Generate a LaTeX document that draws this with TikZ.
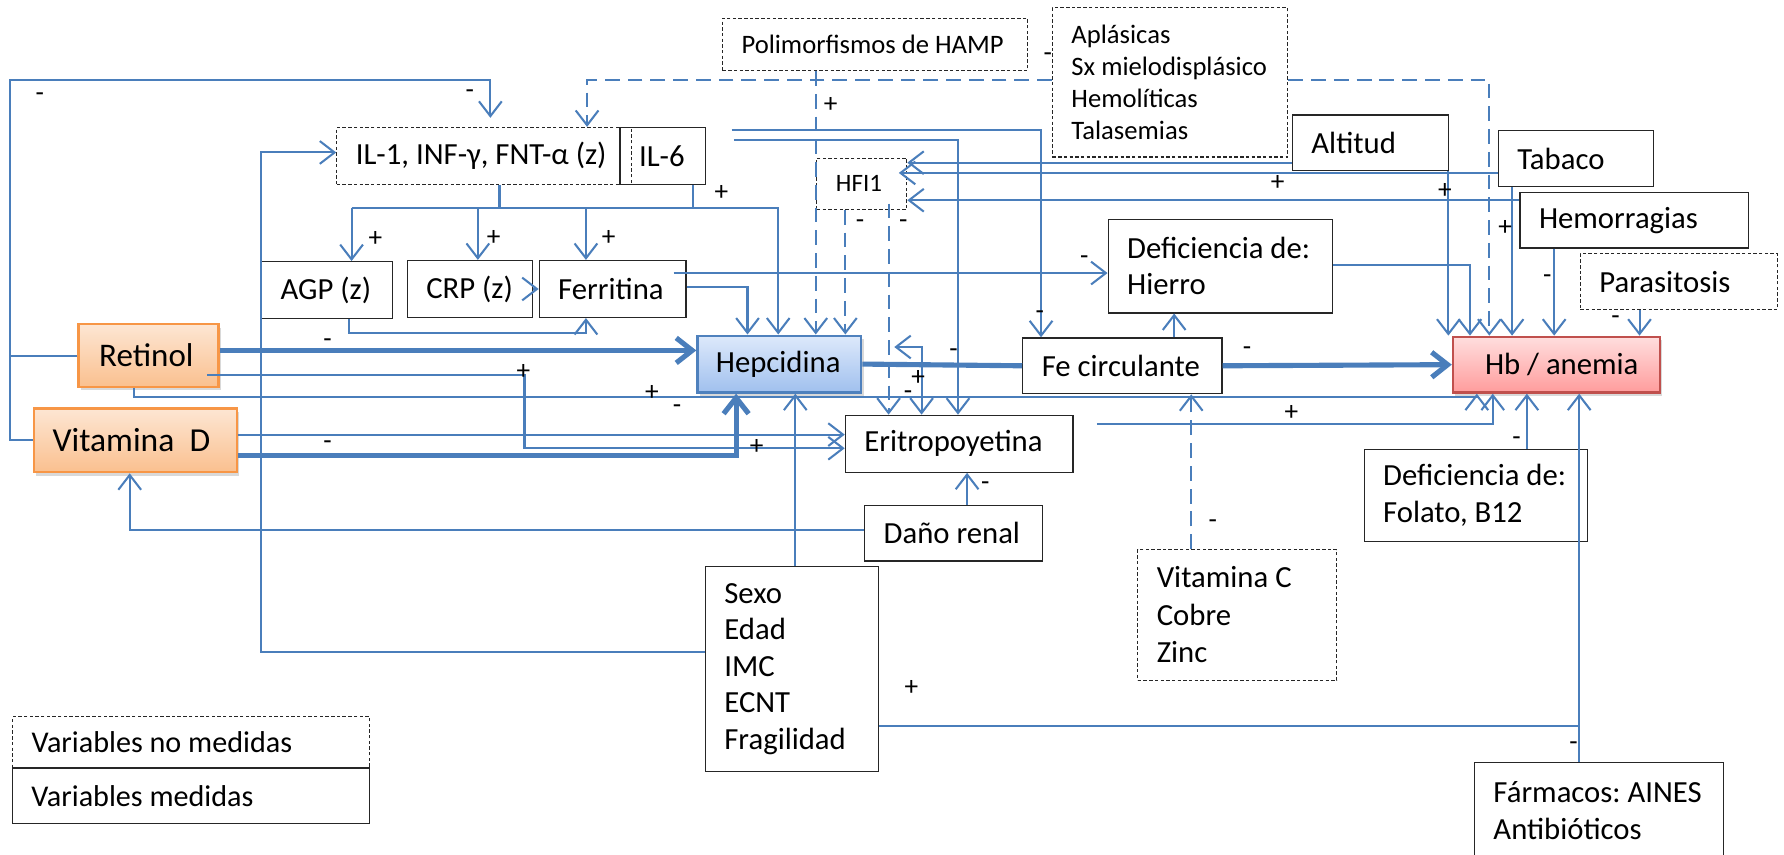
\documentclass[tikz,border=0pt]{standalone}
\usepackage{fontspec}
\setmainfont{Carlito}
\frenchspacing
\usetikzlibrary{arrows.meta,shadows,calc}
\definecolor{lnk}{HTML}{4A7EBB}
\definecolor{orT}{HTML}{FDE6D3}
\definecolor{orB}{HTML}{FAC08F}
\definecolor{orD}{HTML}{F79646}
\definecolor{blT}{HTML}{DDE9FB}
\definecolor{blB}{HTML}{A0C0EE}
\definecolor{blD}{HTML}{4F81BD}
\definecolor{rdT}{HTML}{FFDEDE}
\definecolor{rdB}{HTML}{FF9C9C}
\definecolor{rdD}{HTML}{C0504D}
\newcommand\mybox[8][]{%
  \node[#2, minimum width=#6pt, minimum height=#7pt] (#3) at (#4,#5) {};
  \node[txt, anchor=west, #1] (#3-t) at ([xshift=17pt]#3.west) {#8};}
\begin{document}
\begin{tikzpicture}[x=1pt,y=-1pt,
  >={Straight Barb[length=13pt,width=20pt]},
  bx/.style={draw=black!85, line width=1.1pt, fill=white, inner sep=0pt},
  dbx/.style={bx, dash pattern=on 3pt off 2pt, line width=0.9pt},
  nbx/.style={draw=black!85, line width=1.1pt, inner sep=0pt},
  ndbx/.style={nbx, dash pattern=on 3pt off 2pt, line width=0.9pt},
  shd/.style={drop shadow={shadow xshift=2pt, shadow yshift=-3pt, opacity=0.3}},
  obox/.style={draw=orD, line width=2pt, top color=orT, bottom color=orB, inner sep=0pt, shd},
  bbox/.style={draw=blD, line width=2pt, top color=blT, bottom color=blB, inner sep=0pt, shd},
  rbox/.style={draw=rdD, line width=2pt, top color=rdT, bottom color=rdB, inner sep=0pt, shd},
  txt/.style={inner sep=0pt, align=left, font=\fontsize{27}{32}\selectfont, text=black},
  smalltxt/.style={font=\fontsize{23.4}{28}\selectfont},
  conn/.style={draw=lnk, line width=1.8pt, ->},
  lconn/.style={draw=lnk, line width=1.8pt},
  dconn/.style={conn, dash pattern=on 13pt off 7pt},
  tline/.style={draw=lnk, line width=4.5pt},
  tconn/.style={draw=lnk, line width=4.5pt, -{Straight Barb[length=14pt,width=22pt]}},
  lab/.style={inner sep=0pt, font=\fontsize{24}{24}\selectfont}]
\useasboundingbox (0,0) rectangle (1568,751);
\clip (0,0) rectangle (1568,751);

% ---------- boxes ----------
\mybox[xshift=2pt,font=\fontsize{29}{34}\selectfont]{obox}{ret}{130.5}{312.5}{123}{55}{Retinol}
\mybox[font=\fontsize{29.5}{34}\selectfont]{obox}{vitd}{119}{387}{178}{56}{Vitamina\ \ D}
\mybox{ndbx}{il}{425.5}{137}{259}{50}{IL-1, INF-γ, FNT-α (z)}
\mybox{nbx}{il6}{582.5}{137}{75}{50}{IL-6}
\mybox{bx}{agp}{287.5}{255}{115}{50}{AGP (z)}
\mybox{bx}{crp}{413}{254}{110}{50}{CRP (z)}
\mybox{bx}{fer}{538.5}{254}{129}{50}{Ferritina}
\mybox{bbox}{hep}{685}{320}{144}{50}{Hepcidina}
\mybox{bx}{fec}{986.5}{321.5}{175}{49}{Fe circulante}
\mybox[xshift=12pt]{rbox}{hb}{1368}{320.5}{182}{49}{Hb / anemia}
\mybox{bx}{defh}{1072.5}{234}{197}{82}{Deficiencia de:\\Hierro}
\mybox{bx}{eri}{843}{390}{200}{50}{Eritropoyetina}
\mybox{bx}{dan}{838}{468.5}{156}{49}{Daño renal}
\mybox{bx}{sex}{696}{588}{152}{180}{Sexo\\Edad\\IMC\\ECNT\\Fragilidad}
\mybox[font=\fontsize{27}{33}\selectfont]{dbx}{vitc}{1087.5}{540.5}{175}{115}{Vitamina C\\Cobre\\Zinc}
\mybox{bx}{deff}{1297}{435.5}{196}{81}{Deficiencia de:\\Folato, B12}
\mybox{bx}{farm}{1405.5}{712.5}{219}{85}{Fármacos: AINES\\Antibióticos}
\mybox{dbx}{par}{1475.5}{247.5}{173}{49}{Parasitosis}
\mybox{bx}{hem}{1436.5}{193.5}{201}{49}{Hemorragias}
\mybox{bx}{tab}{1385}{139.5}{136}{49}{Tabaco}
\mybox{bx}{alt}{1204.5}{125.5}{137}{49}{Altitud}
\mybox[smalltxt]{dbx}{apl}{1028.5}{72.5}{207}{131}{Aplásicas\\Sx mielodisplásico\\Hemolíticas\\Talasemias}
\mybox[smalltxt]{dbx}{hamp}{769}{39}{268}{46}{Polimorfismos de HAMP}
\mybox[font=\fontsize{22}{26}\selectfont]{dbx}{hfi}{757.5}{161.5}{79}{45}{HFI1}
\mybox[font=\fontsize{26.5}{30}\selectfont]{dbx}{leg1}{168}{652.5}{314}{45}{Variables no medidas}
\mybox[font=\fontsize{26.5}{30}\selectfont]{bx}{leg2}{168}{699.5}{314}{49}{Variables medidas}

% ---------- connectors ----------
% left loop to cytokines
\draw[lconn] (ret.west) -- (9,312.5);
\draw[conn, shorten >=8pt] (vitd.west) -- (9,387) -- (9,70) -- (431,70) -- (431,0 |- il.north);
% dashed from Aplasicas
\draw[dconn] (apl.west |- 0,70) -- (516,70) -- (516,0 |- il.north);
\draw[dconn] (apl.east |- 0,70) -- (1309,70) -- (1309,0 |- hb.north);
% HAMP
\draw[dconn] (717,0 |- hamp.south) -- (717,0 |- hep.north);
% cytokine bus
\draw[lconn] (439,0 |- il.south) -- (439,183);
\draw[lconn] (609,0 |- il6.south) -- (609,183);
\draw[conn] (309,183) -- (309,0 |- agp.north);
\draw[conn] (420,183) -- (420,0 |- crp.north);
\draw[conn] (515,183) -- (515,0 |- fer.north);
\draw[conn] (309,183) -- (684,183) -- (684,0 |- hep.north);
% ferritin
\draw[conn] (fer.east |- 0,252) -- (657,252) -- (657,0 |- hep.north);
\draw[conn] (592,240) -- (defh.west |- 0,240);
\draw[conn] (307,0 |- agp.south) -- (307,293) -- (515,293) -- (515,0 |- fer.south);
\draw[conn] (crp.east) -- (fer.west);
% IL-6 to the right
\draw[conn] (643,114) -- (915,114) -- (915,0 |- fec.north);
\draw[conn] (645,123) -- (842,123) -- (842,0 |- eri.north);
% into HFI1
\draw[conn] (alt.west |- 0,143) -- (hfi.east |- 0,143);
\draw[conn] (tab.west |- 0,152) -- (790,152);
\draw[conn] (hem.west |- 0,176) -- (hfi.east |- 0,176);
% out of HFI1
\draw[dconn] (743,0 |- hfi.south) -- (743,0 |- hep.north);
\draw[dconn] (781,179) -- (781,0 |- eri.north);
% into Hb from above
\draw[conn] (1273,0 |- alt.south) -- (1273,0 |- hb.north);
\draw[conn] (defh.east |- 0,233) -- (1292,233) -- (1292,0 |- hb.north);
\draw[conn] (1329,0 |- tab.south) -- (1329,0 |- hb.north);
\draw[conn] (1366,0 |- hem.south) -- (1366,0 |- hb.north);
\draw[conn] (1441,0 |- par.south) -- (1441,0 |- hb.north);
% thick main chain
\draw[tline] (hep.east) -- (fec.west);
\draw[tconn] (fec.east) -- (hb.west);
\draw[tconn] (ret.east |- 0,308) -- (hep.west |- 0,308);
\draw[tconn] (vitd.east |- 0,400) -- (647,400) -- (647,0 |- hep.south);
% thin from retinol / vitamin D
\draw[conn] (182,330) -- (461,330) -- (461,394) -- (eri.west |- 0,394);
\draw[conn] (118,0 |- ret.south) -- (118,349) -- (1298,349) -- (1298,0 |- hb.south);
\draw[conn] (vitd.east |- 0,382) -- (eri.west |- 0,382);
% renal damage
\draw[conn] (850,0 |- dan.north) -- (850,0 |- eri.south);
\draw[conn] (dan.west |- 0,466) -- (114,466) -- (114,0 |- vitd.south);
% sexo etc.
\draw[conn] (699,0 |- sex.north) -- (699,0 |- hep.south);
\draw[conn] (sex.west |- 0,573) -- (229,573) -- (229,134) -- (il.west |- 0,134);
\draw[conn] (sex.east |- 0,638) -- (1388,638) -- (1388,0 |- hb.south);
\draw[lconn] (1388,0 |- farm.north) -- (1388,638);
% others
\draw[conn] (1342,0 |- deff.north) -- (1342,0 |- hb.south);
\draw[conn] (964,373) -- (1312,373) -- (1312,0 |- hb.south);
\draw[dconn] (1047,0 |- vitc.north) -- (1047,0 |- fec.south);
\draw[conn] (1032,0 |- fec.north) -- (1032,0 |- defh.south);
\draw[conn, <->] (786,305) -- (810,305) -- (810,0 |- eri.north);

% ---------- signs ----------
\node[lab] (s1) at (35,85) {-};
\node[lab] (s2) at (413,83) {-};
\node[lab] (s3) at (921,50) {-};
\node[lab] (s4) at (730,92) {+};
\node[lab] (s5) at (330,210) {+};
\node[lab] (s6) at (434,209) {+};
\node[lab] (s7) at (535,209) {+};
\node[lab] (s8) at (634,170) {+};
\node[lab] (s9) at (756,197) {-};
\node[lab] (s10) at (794,197) {-};
\node[lab] (s11) at (1123,161) {+};
\node[lab] (s12) at (1270,168) {+};
\node[lab] (s13) at (1323,200) {+};
\node[lab] (s14) at (953,229) {-};
\node[lab] (s15) at (914,277) {-};
\node[lab] (s16) at (838,310) {-};
\node[lab] (s17) at (807,332) {+};
\node[lab] (s18) at (798,347) {-};
\node[lab] (s19) at (1096,309) {-};
\node[lab] (s20) at (1360,245) {-};
\node[lab] (s21) at (1420,281) {-};
\node[lab] (s22) at (288,302) {-};
\node[lab] (s23) at (460,327) {+};
\node[lab] (s24) at (573,345) {+};
\node[lab] (s25) at (595,360) {-};
\node[lab] (s26) at (288,391) {-};
\node[lab] (s27) at (665,393) {+};
\node[lab] (s28) at (866,427) {-};
\node[lab] (s29) at (1135,363) {+};
\node[lab] (s30) at (1333,388) {-};
\node[lab] (s31) at (1066,461) {-};
\node[lab] (s32) at (801,605) {+};
\node[lab] (s33) at (1383,656) {-};
\end{tikzpicture}
\end{document}
